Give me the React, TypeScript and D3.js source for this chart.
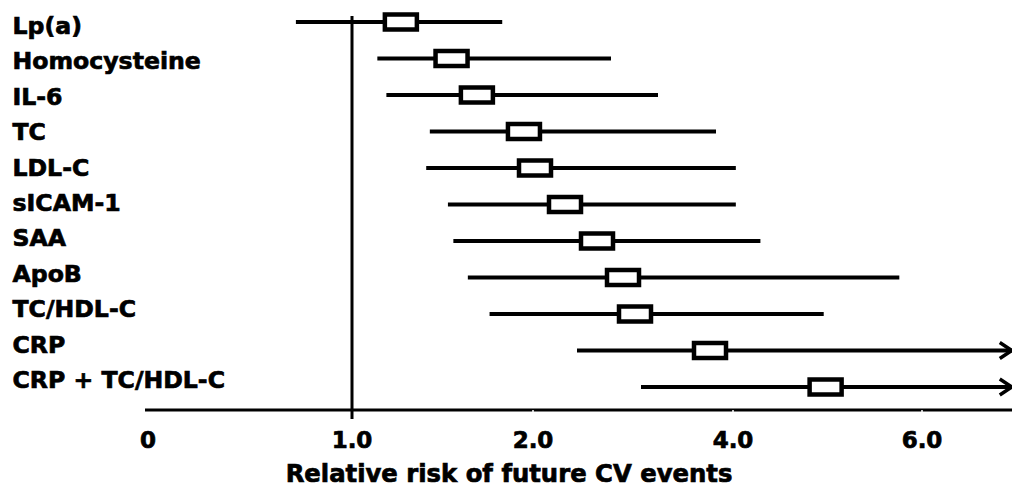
import React from "react";
import * as d3 from "d3";

const categories = [
  "Lp(a)",
  "Homocysteine",
  "IL-6",
  "TC",
  "LDL-C",
  "sICAM-1",
  "SAA",
  "ApoB",
  "TC/HDL-C",
  "CRP",
  "CRP + TC/HDL-C",
];
const estimates = [1.27, 1.55, 1.69, 1.95, 2.02, 2.32, 2.64, 2.9, 3.02, 3.77, 4.98];
const lowerCI = [0.725, 1.14, 1.19, 1.43, 1.41, 1.53, 1.56, 1.64, 1.76, 2.44, 3.08];
const upperCI = [1.83, 2.78, 3.25, 3.83, 4.03, 4.03, 4.29, 5.76, 4.96, 6.95, 6.95];
const extendsBeyond = [false, false, false, false, false, false, false, false, false, true, true];
const tickValues = [0, 1, 2, 4, 6];
const tickLabels = ["0", "1.0", "2.0", "4.0", "6.0"];

const W = 1012;
const H = 492;
const FONT = "'DejaVu Sans', Verdana, sans-serif";

export default function App() {
  const x = d3.scaleLinear().domain(tickValues).range([148, 352, 533, 733, 922]);
  const y = d3.scalePoint<string>().domain(categories).range([22, 387]);
  const yLabel = d3.scalePoint<string>().domain(categories).range([34, 388]);
  const axisY = 410;
  const boxW = 32;
  const boxH = 15;
  const textStroke = { stroke: "#000", strokeWidth: 0.7 };

  return (
    <svg
      width={W}
      height={H}
      style={{ position: "absolute", left: 0, top: 0, background: "#fff" }}
      fontFamily={FONT}
      fontWeight="bold"
    >
      <rect x={0} y={0} width={W} height={H} fill="#fff" />
      {/* reference line at RR = 1 */}
      <line x1={x(1)} x2={x(1)} y1={16} y2={419} stroke="#000" strokeWidth={3} />
      {/* axis line */}
      <line x1={145} x2={W} y1={axisY} y2={axisY} stroke="#000" strokeWidth={3} />
      {tickValues.slice(2).map((t) => (
        <line key={"tk" + t} x1={x(t)} x2={x(t)} y1={axisY} y2={axisY + 2} stroke="#fff" strokeWidth={1.5} />
      ))}
      {tickValues.map((t, i) => (
        <text key={"tl" + t} x={x(t)} y={448} textAnchor="middle" fontSize={23} fill="#000" {...textStroke}>
          {tickLabels[i]}
        </text>
      ))}
      <text x={509} y={482} textAnchor="middle" fontSize={24.3} fill="#000" {...textStroke}>
        Relative risk of future CV events
      </text>
      {categories.map((c, i) => {
        const cy = y(c) as number;
        const x1 = x(lowerCI[i]);
        const x2 = x(upperCI[i]);
        const cx = x(estimates[i]);
        return (
          <g key={c}>
            <text x={12.5} y={yLabel(c) as number} fontSize={23.6} fill="#000" {...textStroke}>
              {c}
            </text>
            <line x1={x1} x2={x2} y1={cy} y2={cy} stroke="#000" strokeWidth={4} />
            {extendsBeyond[i] && (
              <polyline
                points={`${x2 - 12},${cy - 8} ${x2},${cy} ${x2 - 12},${cy + 8}`}
                fill="none"
                stroke="#000"
                strokeWidth={3.5}
              />
            )}
            <rect
              x={cx - boxW / 2}
              y={cy - boxH / 2}
              width={boxW}
              height={boxH}
              fill="#fff"
              stroke="#000"
              strokeWidth={4.5}
            />
          </g>
        );
      })}
    </svg>
  );
}
